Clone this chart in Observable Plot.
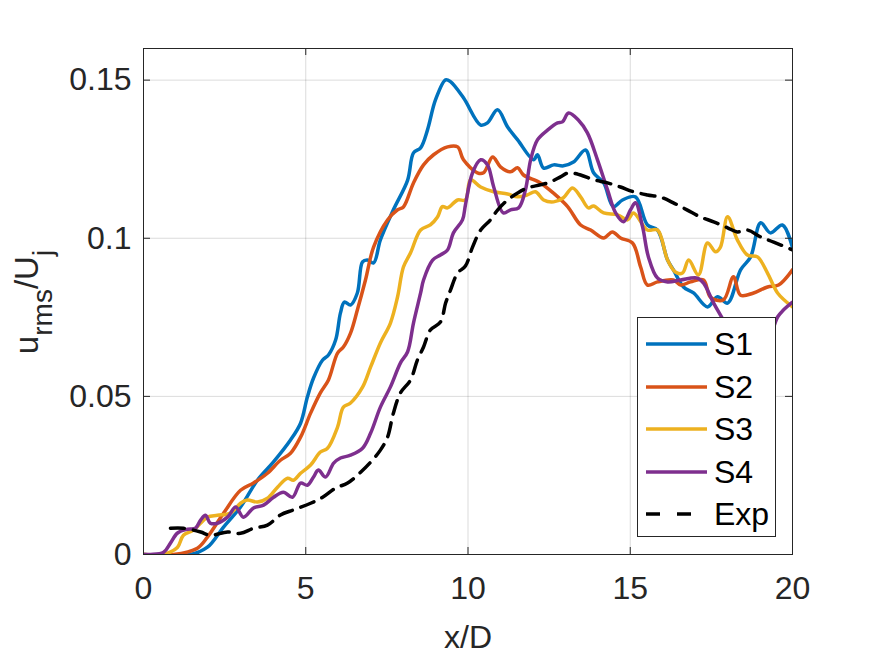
<!DOCTYPE html>
<html>
<head>
<meta charset="utf-8">
<script src="https://cdn.jsdelivr.net/npm/d3@7"></script>
<script src="https://cdn.jsdelivr.net/npm/@observablehq/plot@0.6"></script>
<style>
  html, body { margin: 0; padding: 0; background: #fff; }
  #wrap { position: relative; width: 875px; height: 656px; font-family: "Liberation Sans", Arial, sans-serif; }
  #legend { position: absolute; left: 637px; top: 317px; width: 137px; height: 218px; background: #fff; border: 1px solid #262626; }
  .entry { position: absolute; left: 0; height: 42px; display: flex; align-items: center; }
  .entry svg { margin-left: 8px; margin-right: 7px; }
  .entry span { font-size: 32px; color: #000; line-height: 1; }
</style>
</head>
<body>
<div id="wrap"><div id="legend"></div></div>
<script>
// ---- data (x/D, u_rms/U_j) ----
const s1 = [[0,0],[1.45,0],[1.97,0.0023],[2.46,0.0086],[2.99,0.015],[3.51,0.0235],[4.0,0.0292],[4.53,0.0362],[4.84,0.0415],[5.05,0.0498],[5.24,0.0558],[5.52,0.0615],[5.70,0.0631],[5.92,0.0678],[6.07,0.0764],[6.19,0.0798],[6.38,0.0789],[6.59,0.0827],[6.75,0.0925],[6.90,0.0931],[7.09,0.0922],[7.30,0.0995],[7.70,0.109],[8.14,0.1184],[8.32,0.127],[8.54,0.1286],[8.75,0.1342],[9.0,0.1438],[9.31,0.1501],[9.46,0.1495],[9.86,0.1444],[10.39,0.1358],[10.6,0.1365],[10.91,0.1406],[11.22,0.1352],[11.53,0.1311],[12.02,0.1248],[12.14,0.1264],[12.33,0.1222],[12.64,0.1232],[12.94,0.1229],[13.25,0.1241],[13.62,0.1279],[13.87,0.1207],[14.18,0.1175],[14.48,0.11],[14.76,0.1121],[15.16,0.1131],[15.53,0.1042],[15.84,0.1026],[16.15,0.0931],[16.33,0.09],[16.64,0.0846],[16.95,0.0827],[17.38,0.0783],[17.69,0.0815],[18.0,0.0795],[18.4,0.09],[18.71,0.0941],[19.02,0.1049],[19.32,0.1017],[19.69,0.1042],[20,0.097]];
const s2 = [[0,0],[0.92,0],[1.66,0.002],[1.97,0.0055],[2.47,0.0131],[2.99,0.0203],[3.39,0.0226],[3.82,0.0257],[4.22,0.0298],[4.53,0.032],[4.84,0.0371],[5.15,0.0447],[5.45,0.0511],[5.70,0.0552],[5.98,0.0637],[6.16,0.0656],[6.38,0.07],[6.59,0.0773],[6.84,0.0868],[7.09,0.0972],[7.52,0.1058],[7.83,0.109],[8.01,0.1099],[8.32,0.1175],[8.63,0.1232],[8.94,0.1264],[9.37,0.1289],[9.68,0.1289],[9.86,0.1248],[10.29,0.1207],[10.48,0.1207],[10.76,0.1257],[11.0,0.1226],[11.31,0.121],[11.53,0.1223],[11.71,0.12],[12.23,0.1175],[12.63,0.1143],[13.07,0.11],[13.47,0.1042],[13.78,0.1026],[14.18,0.1001],[14.45,0.102],[14.7,0.1001],[15.07,0.0985],[15.32,0.0909],[15.53,0.0852],[15.84,0.0862],[16.33,0.0868],[16.55,0.0852],[16.86,0.0862],[17.26,0.0868],[17.47,0.0814],[17.87,0.0805],[18.18,0.0878],[18.4,0.082],[18.8,0.0827],[19.23,0.0846],[19.57,0.0852],[20,0.09]];
const s3 = [[0,0],[0.52,0],[0.74,0.0004],[1.05,0.0023],[1.23,0.0061],[1.54,0.0077],[1.97,0.0118],[2.28,0.0124],[2.68,0.0131],[2.99,0.0162],[3.2,0.0172],[3.51,0.0166],[3.82,0.0178],[4.13,0.0213],[4.44,0.0241],[4.62,0.0235],[4.84,0.0257],[5.15,0.0283],[5.45,0.0324],[5.67,0.0336],[5.98,0.0403],[6.16,0.0466],[6.38,0.0479],[6.75,0.0529],[7.0,0.0593],[7.3,0.0669],[7.61,0.0732],[7.83,0.0815],[8.01,0.0909],[8.23,0.0954],[8.54,0.1026],[8.84,0.1042],[9.06,0.1067],[9.21,0.11],[9.37,0.1096],[9.68,0.1121],[9.92,0.1121],[10.08,0.1185],[10.39,0.1162],[10.79,0.1147],[11.22,0.114],[11.53,0.1131],[11.83,0.1137],[12.08,0.1147],[12.33,0.1121],[12.64,0.1115],[12.94,0.1128],[13.22,0.1159],[13.47,0.1131],[13.71,0.1096],[13.87,0.1102],[14.18,0.108],[14.61,0.1074],[14.92,0.1058],[15.1,0.108],[15.53,0.1026],[15.84,0.1026],[16.15,0.0931],[16.39,0.0893],[16.61,0.089],[16.8,0.0931],[17.1,0.0884],[17.38,0.0985],[17.63,0.0957],[17.78,0.0972],[18.0,0.1068],[18.3,0.0995],[18.61,0.0947],[18.92,0.0941],[19.23,0.089],[19.54,0.0827],[20,0.0783]];
const s4 = [[0,0],[0.22,0],[0.62,0.0007],[0.83,0.0036],[1.05,0.0068],[1.36,0.008],[1.6,0.0083],[1.76,0.0109],[1.91,0.0124],[2.06,0.0099],[2.28,0.0099],[2.59,0.0118],[2.84,0.015],[3.08,0.0118],[3.39,0.0147],[3.7,0.0156],[4.01,0.0181],[4.31,0.0197],[4.59,0.0181],[4.84,0.0226],[5.05,0.0219],[5.24,0.0245],[5.39,0.0267],[5.61,0.0245],[5.86,0.0289],[6.07,0.0305],[6.38,0.0314],[6.75,0.0336],[7.0,0.0384],[7.3,0.0466],[7.61,0.053],[7.92,0.0606],[8.14,0.0641],[8.32,0.0732],[8.54,0.0827],[8.63,0.0868],[8.91,0.0931],[9.15,0.0947],[9.37,0.0963],[9.55,0.1017],[9.83,0.1058],[9.92,0.1105],[10.14,0.1207],[10.39,0.1248],[10.6,0.1232],[10.79,0.1163],[11.09,0.108],[11.31,0.109],[11.56,0.1096],[11.77,0.1153],[11.93,0.1248],[12.14,0.1311],[12.45,0.1342],[12.76,0.1365],[12.91,0.1368],[13.1,0.1396],[13.4,0.1374],[13.68,0.1333],[13.99,0.1248],[14.3,0.1153],[14.55,0.108],[14.79,0.1052],[15.01,0.109],[15.16,0.1112],[15.38,0.1036],[15.56,0.0941],[15.84,0.0874],[16.15,0.0862],[16.55,0.0868],[17.07,0.0874],[17.26,0.0858],[17.57,0.0795],[17.87,0.0741],[18.3,0.066],[18.8,0.062],[19.2,0.066],[19.54,0.0751],[19.72,0.0773],[20,0.0798]];
const exp = [[0.83,0.0083],[1.23,0.0083],[1.76,0.0071],[2.06,0.0061],[2.59,0.0071],[2.99,0.0067],[3.39,0.0083],[3.82,0.0093],[4.22,0.0125],[4.62,0.0141],[5.15,0.0162],[5.52,0.0181],[5.92,0.021],[6.29,0.0226],[6.69,0.026],[7.0,0.0292],[7.3,0.033],[7.52,0.0371],[7.7,0.0447],[7.92,0.0511],[8.23,0.0552],[8.44,0.0615],[8.63,0.0656],[8.84,0.071],[9.15,0.0735],[9.31,0.0795],[9.46,0.0836],[9.68,0.089],[9.92,0.0912],[10.14,0.0972],[10.39,0.1026],[10.69,0.1058],[10.91,0.1089],[11.22,0.1121],[11.53,0.1143],[11.83,0.1159],[12.23,0.1169],[12.54,0.1178],[12.85,0.1194],[13.1,0.1207],[13.47,0.12],[13.87,0.1185],[14.3,0.1175],[14.7,0.1162],[15.1,0.1147],[15.53,0.1137],[15.93,0.113],[16.33,0.1112],[16.76,0.1089],[17.17,0.1067],[17.57,0.1052],[18.0,0.1033],[18.3,0.102],[18.61,0.1026],[19.02,0.1004],[19.42,0.0988],[20,0.0963]];

const seriesNames = ["S1", "S2", "S3", "S4", "Exp"];
const seriesColors = ["#0072BD", "#D95319", "#EDB120", "#7E2F8E", "#000000"];
const seriesData = [s1, s2, s3, s4, exp];
const xTicks = [0, 5, 10, 15, 20];
const yTicks = [0, 0.05, 0.1, 0.15];
const yTickLabels = ["0", "0.05", "0.1", "0.15"];
const xDomain = [0, 20];
const yDomain = [0, 0.16];

const FONT = "Liberation Sans, Arial, sans-serif";
const W = 875, H = 656, mL = 143, mR = 83, mT = 48, mB = 102;
const innerW = W - mL - mR, innerH = H - mT - mB;
const TICK = 7;
const LW = 3.5;

const lineMarks = seriesData.map((d, i) => Plot.line(d, {
  x: p => p[0], y: p => p[1],
  stroke: seriesColors[i], strokeWidth: LW,
  strokeDasharray: seriesNames[i] === "Exp" ? "14,9" : null,
  curve: "catmull-rom", clip: true
}));

const chart = Plot.plot({
  width: W, height: H,
  marginLeft: mL, marginRight: mR, marginTop: mT, marginBottom: mB,
  x: {domain: xDomain},
  y: {domain: yDomain},
  style: {fontFamily: FONT, background: "white", overflow: "visible"},
  marks: [
    Plot.gridX(xTicks, {stroke: "#000", strokeOpacity: 0.14, strokeWidth: 1}),
    Plot.gridY(yTicks, {stroke: "#000", strokeOpacity: 0.14, strokeWidth: 1}),
    ...lineMarks,
    Plot.ruleX(xTicks, {x: d => d, insetTop: innerH - TICK, stroke: "#262626"}),
    Plot.ruleX(xTicks, {x: d => d, insetBottom: innerH - TICK, stroke: "#262626"}),
    Plot.ruleY(yTicks, {y: d => d, insetRight: innerW - TICK, stroke: "#262626"}),
    Plot.ruleY(yTicks, {y: d => d, insetLeft: innerW - TICK, stroke: "#262626"}),
    Plot.frame({stroke: "#262626", strokeWidth: 1}),
    Plot.axisX(xTicks, {tickSize: 0, tickPadding: 22, fontSize: 32, fill: "#262626", label: null}),
    Plot.axisY(yTicks, {tickSize: 0, tickPadding: 12, fontSize: 32, fill: "#262626", label: null,
      tickFormat: d => yTickLabels[yTicks.indexOf(d)]}),
    Plot.text(["x/D"], {frameAnchor: "bottom", text: d => d, dy: 83, lineAnchor: "middle", fontSize: 32, fill: "#262626"})
  ]
});

document.getElementById("wrap").prepend(chart);

// y-axis label with subscripts
const svg = d3.select(chart);
const yl = svg.append("text")
  .attr("transform", "translate(38,302) rotate(-90)")
  .attr("text-anchor", "middle")
  .attr("font-family", FONT)
  .attr("font-size", 33)
  .attr("fill", "#262626");
yl.append("tspan").text("u");
yl.append("tspan").attr("font-size", 28).attr("dy", 14).text("rms");
yl.append("tspan").attr("dy", -14).text("/U");
yl.append("tspan").attr("font-size", 28).attr("dy", 14).text("j");

// legend
const legend = d3.select("#legend");
const centers = [26, 69, 111, 154, 196];
seriesNames.forEach((name, i) => {
  const e = legend.append("div").attr("class", "entry").style("top", (centers[i] - 21) + "px");
  const sw = e.append("svg").attr("width", 61).attr("height", 8);
  sw.append("line").attr("x1", 0).attr("x2", 61).attr("y1", 4).attr("y2", 4)
    .attr("stroke", seriesColors[i]).attr("stroke-width", LW)
    .attr("stroke-dasharray", name === "Exp" ? "14,17" : null);
  e.append("span").text(name);
});
</script>
</body>
</html>
